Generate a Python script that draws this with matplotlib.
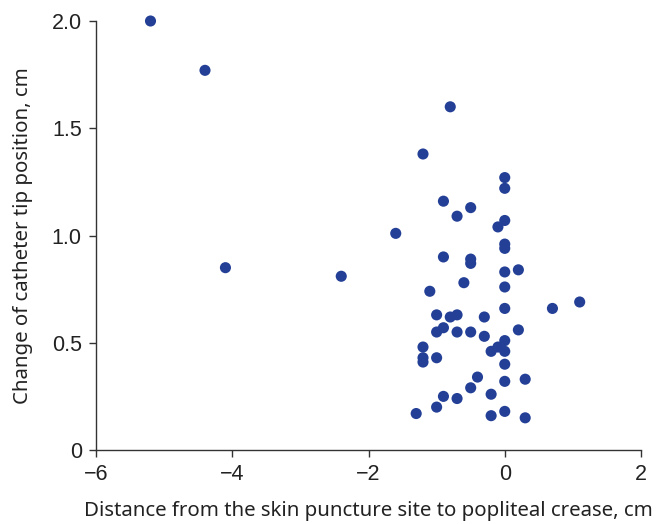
import matplotlib
matplotlib.use("Agg")
import matplotlib.pyplot as plt

distance_cm = [
    -5.2, -4.4, -4.1, -2.4, -1.6, -0.8, -1.2,
    0.0, 0.0, -0.9, -0.5, -0.7, 0.0, -0.1, 0.0, 0.0, -0.9, -0.5, -0.5, 0.2,
    0.0, -0.6, -1.1, 0.0, 0.0, 0.7, 1.1,
    -1.0, -0.8, -0.7, -0.3, -1.0, -0.9, -0.7, -0.5, -0.3, 0.2,
    0.0, -0.1, -0.2, 0.0, -1.2, -1.2, -1.2, -1.0, 0.0,
    -0.4, 0.0, 0.3, -0.5, -0.2, -0.9, -0.7, -1.0, -1.3, -0.2, 0.0, 0.3,
]
tip_change_cm = [
    2.00, 1.77, 0.85, 0.81, 1.01, 1.60, 1.38,
    1.27, 1.22, 1.16, 1.13, 1.09, 1.07, 1.04, 0.96, 0.94, 0.90, 0.89, 0.87, 0.84,
    0.83, 0.78, 0.74, 0.76, 0.66, 0.66, 0.69,
    0.63, 0.62, 0.63, 0.62, 0.55, 0.57, 0.55, 0.55, 0.53, 0.56,
    0.51, 0.48, 0.46, 0.46, 0.48, 0.43, 0.41, 0.43, 0.40,
    0.34, 0.32, 0.33, 0.29, 0.26, 0.25, 0.24, 0.20, 0.17, 0.16, 0.18, 0.15,
]

x_ticks = [-6, -4, -2, 0, 2]
x_tick_labels = ["\u22126", "\u22124", "\u22122", "0", "2"]
y_ticks = [0, 0.5, 1.0, 1.5, 2.0]
y_tick_labels = ["0", "0.5", "1.0", "1.5", "2.0"]

fig = plt.figure(figsize=(6.56, 5.24), dpi=100)
ax = fig.add_axes([96 / 656, 1 - 450 / 524, (641 - 96) / 656, (450 - 21) / 524])

ax.scatter(distance_cm, tip_change_cm, s=64, color="#233f96", edgecolors="none",
           clip_on=False, zorder=3)

ax.set_xlim(-6, 2)
ax.set_ylim(0, 2.0)
ax.set_xticks(x_ticks)
ax.set_xticklabels(x_tick_labels, fontfamily="Liberation Sans", fontsize=15.5)
ax.set_yticks(y_ticks)
ax.set_yticklabels(y_tick_labels, fontfamily="Liberation Sans", fontsize=15.5)

for side in ["top", "right"]:
    ax.spines[side].set_visible(False)
for side in ["left", "bottom"]:
    ax.spines[side].set_color("#333333")
    ax.spines[side].set_linewidth(1.0)
ax.tick_params(direction="out", length=5.2, width=1.0, color="#333333",
               labelcolor="#222222", pad=5)

ax.set_xlabel("Distance from the skin puncture site to popliteal crease, cm",
              fontfamily="Noto Sans", fontsize=14.7, color="#222222")
ax.xaxis.set_label_coords(0.5, -0.119)
ax.set_ylabel("Change of catheter tip position, cm",
              fontfamily="Noto Sans", fontsize=14.7, color="#222222")
ax.yaxis.set_label_coords(-0.1156, 0.5)

fig.savefig("out.png", dpi=100)
